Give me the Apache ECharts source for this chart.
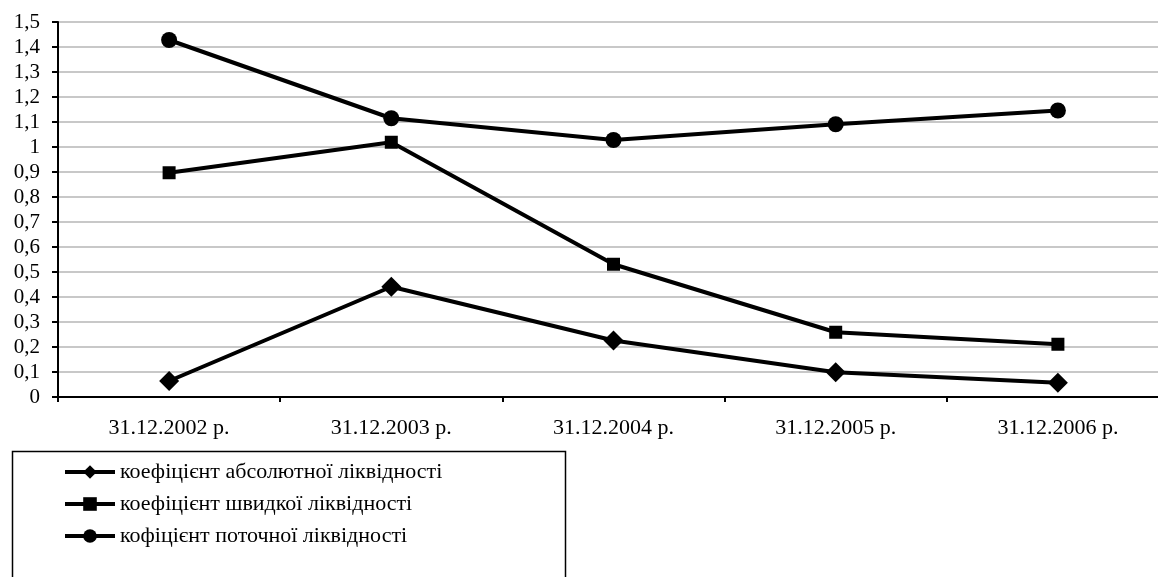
<!DOCTYPE html>
<html>
<head>
<meta charset="utf-8">
<script src="https://cdn.jsdelivr.net/npm/echarts@6/dist/echarts.min.js"></script>
<style>
html,body{margin:0;padding:0;background:#fff;overflow:hidden;width:1158px;height:577px;}
#c{width:1170px;height:577px;}
</style>
</head>
<body>
<div id="c"></div>
<script>
const categories = ['31.12.2002 р.', '31.12.2003 р.', '31.12.2004 р.', '31.12.2005 р.', '31.12.2006 р.'];
const seriesNames = ['коефіцієнт абсолютної ліквідності', 'коефіцієнт швидкої ліквідності', 'кофіцієнт поточної ліквідності'];
const absoluteLiquidity = [0.064, 0.441, 0.226, 0.099, 0.057];
const quickLiquidity = [0.897, 1.019, 0.531, 0.259, 0.211];
const currentLiquidity = [1.428, 1.115, 1.028, 1.091, 1.146];
const yMin = 0, yMax = 1.5, yStep = 0.1;

const FONT = '"Liberation Serif", "Times New Roman", serif';
const chart = echarts.init(document.getElementById('c'));

function mkSeries(name, data, symbol, size) {
  return {
    name: name, type: 'line', data: data,
    symbol: symbol, symbolSize: size, showSymbol: true,
    lineStyle: { color: '#000', width: 4 },
    itemStyle: { color: '#000', borderWidth: 0 },
    emphasis: { disabled: true },
    animation: false
  };
}

chart.setOption({
  animation: false,
  backgroundColor: '#fff',
  grid: { left: 58, top: 22, width: 1111, height: 375, containLabel: false },
  xAxis: {
    type: 'category', data: categories, boundaryGap: true,
    axisLine: { lineStyle: { color: '#000', width: 2 } },
    axisTick: { show: true, alignWithLabel: false, length: 5, lineStyle: { color: '#000', width: 2 } },
    axisLabel: { color: '#000', fontFamily: FONT, fontSize: 22, margin: 20 },
    splitLine: { show: false }
  },
  yAxis: {
    type: 'value', min: yMin, max: yMax, interval: yStep,
    axisLine: { show: true, lineStyle: { color: '#000', width: 2 } },
    axisTick: { show: true, length: 6, lineStyle: { color: '#000', width: 2 } },
    axisLabel: {
      color: '#000', fontFamily: FONT, fontSize: 21, margin: 18,
      formatter: v => String(+v.toFixed(1)).replace('.', ',')
    },
    splitLine: { show: true, lineStyle: { color: '#c8c8c8', width: 2 } }
  },
  legend: {
    orient: 'vertical', left: 63, top: 461, padding: 0,
    itemWidth: 50, itemHeight: 17, itemGap: 10,
    lineStyle: { width: 4, color: '#000' },
    textStyle: { color: '#000', fontFamily: FONT, fontSize: 22 },
    data: seriesNames
  },
  graphic: [{
    type: 'rect', left: 10, top: 449, silent: true,
    shape: { width: 553, height: 140 },
    style: { fill: 'none', stroke: '#000', lineWidth: 1.5 }
  }],
  series: [
    mkSeries(seriesNames[0], absoluteLiquidity, 'diamond', 20),
    mkSeries(seriesNames[1], quickLiquidity, 'rect', 13),
    mkSeries(seriesNames[2], currentLiquidity, 'circle', 16)
  ]
});
</script>
</body>
</html>
